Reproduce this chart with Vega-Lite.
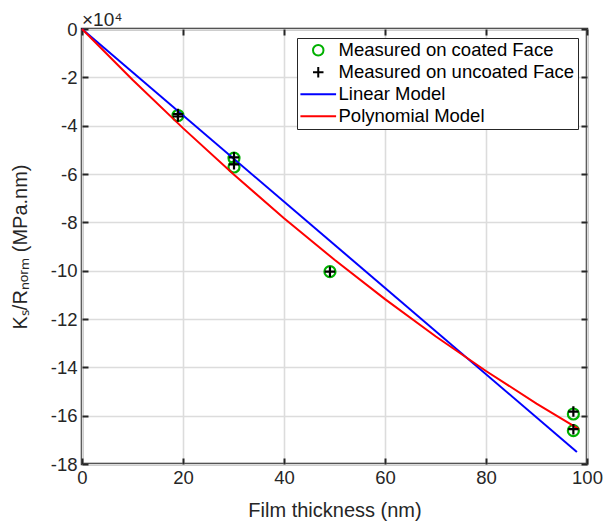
{
  "$schema": "https://vega.github.io/schema/vega-lite/v6.json",
  "width": 505,
  "height": 435,
  "autosize": {"type": "none"},
  "padding": {"left": 82, "top": 29, "right": 19, "bottom": 63},
  "background": "white",
  "title": {"text": "×10⁴", "anchor": "start", "frame": "group", "orient": "top", "fontSize": 19, "fontWeight": "normal", "font": "Liberation Sans", "color": "#262626", "offset": -10},
  "config": {
    "view": {"stroke": "#262626", "strokeWidth": 2.5},
    "font": "Liberation Sans",
    "axis": {
      "domain": false,
      "labelFont": "Liberation Sans",
      "labelFontSize": 18.5,
      "labelColor": "#262626",
      "labelFlush": false,
      "labelOverlap": false,
      "titleFont": "Liberation Sans",
      "titleFontSize": 20,
      "titleFontWeight": "normal",
      "titleColor": "#262626",
      "tickColor": "#262626",
      "tickWidth": 2,
      "tickSize": -6,
      "gridColor": "#dcdcdc",
      "gridWidth": 1.6
    }
  },
  "datasets": {
    "coated": [
      {"x": 19.0, "y": -35800, "series": "Measured on coated Face"},
      {"x": 30.1, "y": -53400, "series": "Measured on coated Face"},
      {"x": 30.1, "y": -57100, "series": "Measured on coated Face"},
      {"x": 49.1, "y": -100400, "series": "Measured on coated Face"},
      {"x": 97.3, "y": -159300, "series": "Measured on coated Face"},
      {"x": 97.3, "y": -166200, "series": "Measured on coated Face"}
    ],
    "uncoated": [
      {"x": 19.0, "y": -35200, "series": "Measured on uncoated Face"},
      {"x": 19.0, "y": -36200, "series": "Measured on uncoated Face"},
      {"x": 30.1, "y": -53100, "series": "Measured on uncoated Face"},
      {"x": 30.1, "y": -56000, "series": "Measured on uncoated Face"},
      {"x": 49.1, "y": -100400, "series": "Measured on uncoated Face"},
      {"x": 97.3, "y": -158300, "series": "Measured on uncoated Face"},
      {"x": 97.3, "y": -165600, "series": "Measured on uncoated Face"}
    ],
    "linear": [
      {"x": 0, "y": 0, "series": "Linear Model"},
      {"x": 98, "y": -175000, "series": "Linear Model"}
    ],
    "poly": [
      {"x": 0, "y": 0, "series": "Polynomial Model"},
      {"x": 10, "y": -20980, "series": "Polynomial Model"},
      {"x": 20, "y": -41020, "series": "Polynomial Model"},
      {"x": 30, "y": -60120, "series": "Polynomial Model"},
      {"x": 40, "y": -78280, "series": "Polynomial Model"},
      {"x": 50, "y": -95500, "series": "Polynomial Model"},
      {"x": 60, "y": -111780, "series": "Polynomial Model"},
      {"x": 70, "y": -127120, "series": "Polynomial Model"},
      {"x": 80, "y": -141520, "series": "Polynomial Model"},
      {"x": 90, "y": -154980, "series": "Polynomial Model"},
      {"x": 98.4, "y": -165560, "series": "Polynomial Model"}
    ]
  },
  "layer": [
    {
      "data": {"name": "coated"},
      "mark": {"type": "point", "filled": false, "size": 121, "strokeWidth": 2.2, "opacity": 1},
      "encoding": {
        "x": {"field": "x", "type": "quantitative", "scale": {"domain": [0, 100], "nice": false},
          "axis": {"orient": "bottom", "values": [0, 20, 40, 60, 80, 100], "grid": true, "title": "Film thickness (nm)", "labelPadding": 10, "titlePadding": 14}},
        "y": {"field": "y", "type": "quantitative", "scale": {"domain": [-180000, 0], "nice": false},
          "axis": {"orient": "left", "values": [0, -20000, -40000, -60000, -80000, -100000, -120000, -140000, -160000, -180000], "grid": true, "labelExpr": "'' + (datum.value / 10000)", "title": "Kₛ/Rₙₒᵣₘ (MPa.nm)", "labelPadding": 11, "titlePadding": 20}},
        "color": {"field": "series", "type": "nominal",
          "scale": {"domain": ["Measured on coated Face", "Measured on uncoated Face", "Linear Model", "Polynomial Model"], "range": ["#00b000", "#000000", "#0000ff", "#ff0000"]},
          "legend": {
            "title": null, "orient": "top-right", "offset": 9, "padding": 3,
            "strokeColor": "#262626", "fillColor": "white", "cornerRadius": 0,
            "labelFont": "Liberation Sans", "labelFontSize": 18.5, "labelColor": "#000000", "labelLimit": 400,
            "symbolSize": 110, "symbolStrokeWidth": 2, "symbolOffset": 9, "labelOffset": 11, "rowPadding": 3, "symbolFillColor": "transparent"
          }},
        "shape": {"field": "series", "type": "nominal",
          "scale": {"domain": ["Measured on coated Face", "Measured on uncoated Face", "Linear Model", "Polynomial Model"], "range": ["circle", "M-1,0H1M0,-1V1", "M-3.4,0H3.4", "M-3.4,0H3.4"]},
          "legend": {
            "title": null, "orient": "top-right", "offset": 9, "padding": 3,
            "strokeColor": "#262626", "fillColor": "white", "cornerRadius": 0,
            "labelFont": "Liberation Sans", "labelFontSize": 18.5, "labelColor": "#000000", "labelLimit": 400,
            "symbolSize": 110, "symbolStrokeWidth": 2, "symbolOffset": 9, "labelOffset": 11, "rowPadding": 3, "symbolFillColor": "transparent"
          }}
      }
    },
    {
      "data": {"name": "linear"},
      "mark": {"type": "line", "strokeWidth": 2},
      "encoding": {
        "x": {"field": "x", "type": "quantitative", "axis": null},
        "y": {"field": "y", "type": "quantitative", "axis": null},
        "color": {"field": "series", "type": "nominal"}
      }
    },
    {
      "data": {"name": "poly"},
      "mark": {"type": "line", "strokeWidth": 2},
      "encoding": {
        "x": {"field": "x", "type": "quantitative", "axis": null},
        "y": {"field": "y", "type": "quantitative", "axis": null},
        "color": {"field": "series", "type": "nominal"}
      }
    },
    {
      "data": {"name": "uncoated"},
      "mark": {"type": "point", "filled": false, "size": 110, "strokeWidth": 2.2, "opacity": 1},
      "encoding": {
        "x": {"field": "x", "type": "quantitative",
          "axis": {"orient": "top", "values": [0, 20, 40, 60, 80, 100], "grid": false, "labels": false, "title": null}},
        "y": {"field": "y", "type": "quantitative",
          "axis": {"orient": "right", "values": [0, -20000, -40000, -60000, -80000, -100000, -120000, -140000, -160000, -180000], "grid": false, "labels": false, "title": null}},
        "color": {"field": "series", "type": "nominal"},
        "shape": {"field": "series", "type": "nominal"}
      }
    }
  ],
  "resolve": {"axis": {"x": "independent", "y": "independent"}}
}
